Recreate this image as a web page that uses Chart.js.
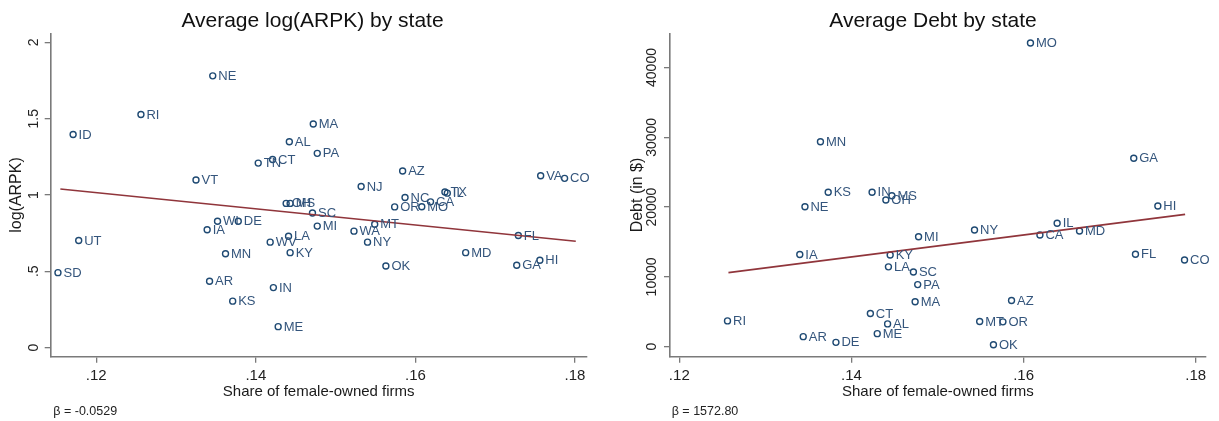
<!DOCTYPE html>
<html>
<head>
<meta charset="utf-8">
<title>Average log(ARPK) and Debt by state</title>
<script src="https://cdn.jsdelivr.net/npm/chart.js@4.4.1/dist/chart.umd.min.js"></script>
<style>
  html, body { margin: 0; padding: 0; background: #ffffff; }
  #wrap { position: relative; width: 1219px; height: 421px; overflow: hidden; }
  canvas { position: absolute; top: 0; }
  #cLeft { left: 0; }
  #cRight { left: 609px; }
</style>
</head>
<body>
<div id="wrap">
  <canvas id="cLeft" width="609" height="421"></canvas>
  <canvas id="cRight" width="610" height="421"></canvas>
</div>
<script>
// ---- Left panel: average log(ARPK) by state ----
const arpkStates = ['SD','UT','ID','RI','NE','VT','IA','WI','DE','MN','AR','KS','WV','LA','KY','IN','ME',
  'TN','CT','AL','MA','PA','OH','MS','SC','MI','NJ','WA','MT','NY','OK','AZ','NC','OR','MO','CA','TX','IL',
  'MD','FL','GA','HI','VA','CO'];
const arpkShare = [0.1152,0.1178,0.1171,0.1256,0.1346,0.1325,0.1339,0.1352,0.1378,0.1362,0.1342,0.1371,
  0.1418,0.1441,0.1443,0.1422,0.1428,0.1403,0.1421,0.1442,0.1472,0.1477,0.1438,0.1443,0.1471,0.1477,0.1532,
  0.1523,0.1549,0.1540,0.1563,0.1584,0.1587,0.1574,0.1608,0.1619,0.1637,0.1640,0.1663,0.1729,0.1727,0.1756,
  0.1757,0.1787];
const arpkLog = [0.491,0.702,1.397,1.528,1.781,1.098,0.772,0.828,0.828,0.615,0.435,0.304,0.691,0.730,0.622,
  0.393,0.137,1.209,1.233,1.349,1.465,1.273,0.945,0.945,0.882,0.796,1.056,0.763,0.808,0.691,0.535,1.157,
  0.984,0.922,0.923,0.955,1.020,1.012,0.622,0.735,0.539,0.572,1.126,1.109];
const arpkBeta = -0.0529;          // slope per percentage point of share
const arpkIntercept = 1.650;
const arpkFitRange = [0.1155, 0.1801];
const arpkTicks = [0, 0.5, 1, 1.5, 2];
const arpkTickLabels = ['0', '.5', '1', '1.5', '2'];

// ---- Right panel: average debt by state ----
const debtStates = ['MO','MN','GA','KS','IN','MS','OH','NE','HI','IL','MD','CA','NY','MI','IA','KY','LA',
  'SC','FL','CO','PA','MA','AZ','CT','AL','MT','OR','RI','AR','ME','DE','OK'];
const debtShare = [0.1608,0.1364,0.1728,0.1373,0.1424,0.1447,0.1440,0.1346,0.1756,0.1639,0.1665,0.1619,
  0.1543,0.1478,0.1340,0.1445,0.1443,0.1472,0.1730,0.1787,0.1477,0.1474,0.1586,0.1422,0.1442,0.1549,0.1576,
  0.1256,0.1344,0.1430,0.1382,0.1565];
const debtValue = [43510,29370,26990,22120,22120,21630,21020,20060,20160,17680,16580,16000,16720,15760,13220,
  13130,11440,10700,13240,12420,8900,6440,6630,4760,3270,3610,3560,3700,1440,1875,625,290];
const debtBeta = 1572.80;          // slope per percentage point of share
const debtIntercept = -9152;
const debtFitRange = [0.12571, 0.17877];
const debtTicks = [0, 10000, 20000, 30000, 40000];
const debtTickLabels = ['0', '10000', '20000', '30000', '40000'];

// ---- Shared x axis ----
const shareTicks = [0.12, 0.14, 0.16, 0.18];
const shareTickLabels = ['.12', '.14', '.16', '.18'];

const FONT = '"Liberation Sans", Arial, Helvetica, sans-serif';
const NAVY = '#1f4a73';
const LABEL = '#34557c';
const MAROON = '#90353b';
const AXIS = '#7a7a7a';
const TICKLEN = 6;
const YTICK_SIZE = 14;

function widestLabel(labels, size) {
  const ctx = document.createElement('canvas').getContext('2d');
  ctx.font = size + 'px ' + FONT;
  return Math.max(...labels.map(l => ctx.measureText(l).width));
}

// Draws state abbreviations to the right of each marker, plus the title and slope note.
const annotate = {
  id: 'annotate',
  afterDatasetsDraw(chart, args, opts) {
    const ctx = chart.ctx;
    const meta = chart.getDatasetMeta(opts.pointsIndex);
    ctx.save();
    ctx.font = '13px ' + FONT;
    ctx.fillStyle = LABEL;
    ctx.textAlign = 'left';
    ctx.textBaseline = 'middle';
    meta.data.forEach((pt, i) => {
      ctx.fillText(opts.names[i], pt.x + 5.5, pt.y + 0.5);
    });
    ctx.restore();
  },
  afterDraw(chart, args, opts) {
    const ctx = chart.ctx;
    ctx.save();
    ctx.fillStyle = '#111111';
    ctx.font = '21px ' + FONT;
    ctx.textAlign = 'center';
    ctx.textBaseline = 'alphabetic';
    ctx.fillText(opts.title, opts.titleX, 26.7);
    ctx.font = '12.5px ' + FONT;
    ctx.textAlign = 'left';
    ctx.fillStyle = '#222222';
    ctx.fillText(opts.note, opts.noteX, 415);
    ctx.restore();
  }
};

function makePanel(canvasId, p) {
  const pts = p.share.map((x, i) => ({ x, y: p.values[i] }));
  const fit = p.fitRange.map(x => ({ x, y: p.intercept + p.beta * 100 * x }));
  const widest = widestLabel(p.yTickLabels, YTICK_SIZE);
  return new Chart(document.getElementById(canvasId), {
    data: {
      datasets: [
        {
          type: 'scatter',
          data: pts,
          order: 1,
          pointStyle: 'circle',
          pointRadius: 3,
          pointBorderWidth: 1.4,
          pointBackgroundColor: 'rgba(0,0,0,0)',
          pointBorderColor: NAVY
        },
        {
          type: 'line',
          data: fit,
          order: 0,
          borderColor: MAROON,
          borderWidth: 1.6,
          pointRadius: 0,
          fill: false,
          tension: 0
        }
      ]
    },
    options: {
      responsive: false,
      animation: false,
      events: [],
      layout: { padding: { top: 33.3, bottom: 0, left: 0, right: p.padRight } },
      plugins: {
        legend: { display: false },
        tooltip: { enabled: false },
        title: { display: false },
        annotate: {
          pointsIndex: 0,
          names: p.names,
          title: p.title,
          titleX: p.titleX,
          note: 'β = ' + p.betaText,
          noteX: p.noteX
        }
      },
      scales: {
        x: {
          type: 'linear',
          position: 'bottom',
          min: p.xMin,
          max: p.xMax,
          afterBuildTicks: s => { s.ticks = shareTicks.map(v => ({ value: v })); },
          afterFit: s => { s.height = 421 - 356.7; },
          border: { display: true, color: AXIS, width: 1.6 },
          grid: { display: true, drawOnChartArea: false, drawTicks: true, tickLength: TICKLEN, color: AXIS, lineWidth: 1.3 },
          ticks: {
            padding: 3.8,
            maxRotation: 0,
            autoSkip: false,
            color: '#222222',
            font: { family: FONT, size: 15 },
            callback: (v, i) => shareTickLabels[i]
          },
          title: {
            display: true,
            text: 'Share of female-owned firms',
            color: '#1a1a1a',
            font: { family: FONT, size: 15 },
            padding: { top: 0, bottom: 20.3 }
          }
        },
        y: {
          type: 'linear',
          position: 'left',
          min: p.yMin,
          max: p.yMax,
          afterBuildTicks: s => { s.ticks = p.yTicks.map(v => ({ value: v })); },
          afterFit: s => { s.width = p.yAxisX; },
          border: { display: true, color: AXIS, width: 1.6 },
          grid: { display: true, drawOnChartArea: false, drawTicks: true, tickLength: TICKLEN, color: AXIS, lineWidth: 1.3 },
          ticks: {
            minRotation: 90,
            maxRotation: 90,
            crossAlign: 'center',
            padding: p.yLabelGap - TICKLEN - widest / 2,
            autoSkip: false,
            color: '#222222',
            font: { family: FONT, size: YTICK_SIZE },
            callback: (v, i) => p.yTickLabels[i]
          },
          title: {
            display: true,
            text: p.yTitle,
            color: '#1a1a1a',
            font: { family: FONT, size: 16 },
            padding: { top: p.yTitlePad, bottom: 0 }
          }
        }
      }
    },
    plugins: [annotate]
  });
}

makePanel('cLeft', {
  names: arpkStates, share: arpkShare, values: arpkLog,
  beta: arpkBeta, intercept: arpkIntercept, fitRange: arpkFitRange, betaText: arpkBeta.toFixed(4),
  yTicks: arpkTicks, yTickLabels: arpkTickLabels,
  xMin: 0.11429, xMax: 0.18147, yMin: -0.06, yMax: 2.06,
  yAxisX: 50.7, padRight: 609 - 586.7, yLabelGap: 16.4,
  yTitle: 'log(ARPK)', yTitlePad: 6.9,
  title: 'Average log(ARPK) by state', titleX: 312.5, noteX: 53.3
});

makePanel('cRight', {
  names: debtStates, share: debtShare, values: debtValue,
  beta: debtBeta, intercept: debtIntercept, fitRange: debtFitRange, betaText: debtBeta.toFixed(2),
  yTicks: debtTicks, yTickLabels: debtTickLabels,
  xMin: 0.11892, xMax: 0.18116, yMin: -1430, yMax: 44900,
  yAxisX: 61, padRight: 610 - 596.7, yLabelGap: 17.5,
  yTitle: 'Debt (in $)', yTitlePad: 18.9,
  title: 'Average Debt by state', titleX: 324, noteX: 62.7
});
</script>
</body>
</html>
